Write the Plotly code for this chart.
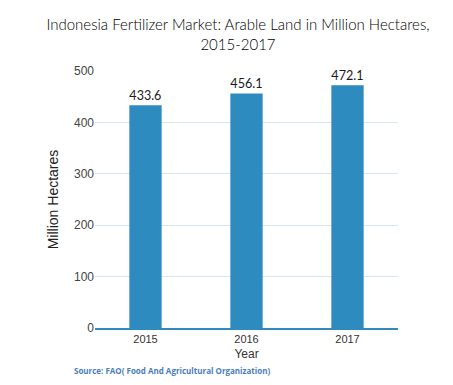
import plotly.graph_objects as go

years = ["2015", "2016", "2017"]
values = [433.6, 456.1, 472.1]
labels = ["433.6", "456.1", "472.1"]

W, H = 445, 377

fig = go.Figure()
fig.add_trace(go.Bar(
    x=years, y=values, text=labels, textposition="outside",
    marker=dict(color="#2e8bc0", line=dict(width=0)),
    textfont=dict(family="Lato", size=15, color="#1a1a1a", weight="normal"),
    cliponaxis=False,
))
fig.update_layout(
    width=W, height=H,
    margin=dict(l=87, r=55, t=63, b=57, autoexpand=False),
    paper_bgcolor="white", plot_bgcolor="white",
    bargap=0.68,
    showlegend=False,
    title=dict(text="Indonesia Fertilizer Market: Arable Land in Million Hectares,<br>2015-2017",
               x=230/W, xanchor="center", y=1 - 22/H, yanchor="top",
               font=dict(family="Lato", size=15, color="#000000", weight=300)),
    xaxis=dict(title=dict(text="Year", font=dict(family="Liberation Sans", size=12, color="#333333"), standoff=6),
               tickfont=dict(family="Liberation Sans", size=11, color="#333333"),
               showline=True, linecolor="#2e8bc0", linewidth=1.5, ticks="", automargin=False),
    yaxis=dict(title=dict(text="Million Hectares", font=dict(family="Liberation Sans", size=14, color="#222222"), standoff=12),
               range=[0, 500], dtick=100,
               tickfont=dict(family="Liberation Sans", size=12, color="#444444"),
               gridcolor="#d6e6ee", zeroline=False, ticks="", automargin=False),
)
fig.add_annotation(text="<b>Source: FAO( Food And Agricultural Organization)</b>",
                   xref="paper", yref="paper", x=-23/303, y=-42/257, xanchor="left", yanchor="middle",
                   showarrow=False, font=dict(family="Open Sans", size=8, color="#4a7ebb"))
fig.write_html("out.html")
